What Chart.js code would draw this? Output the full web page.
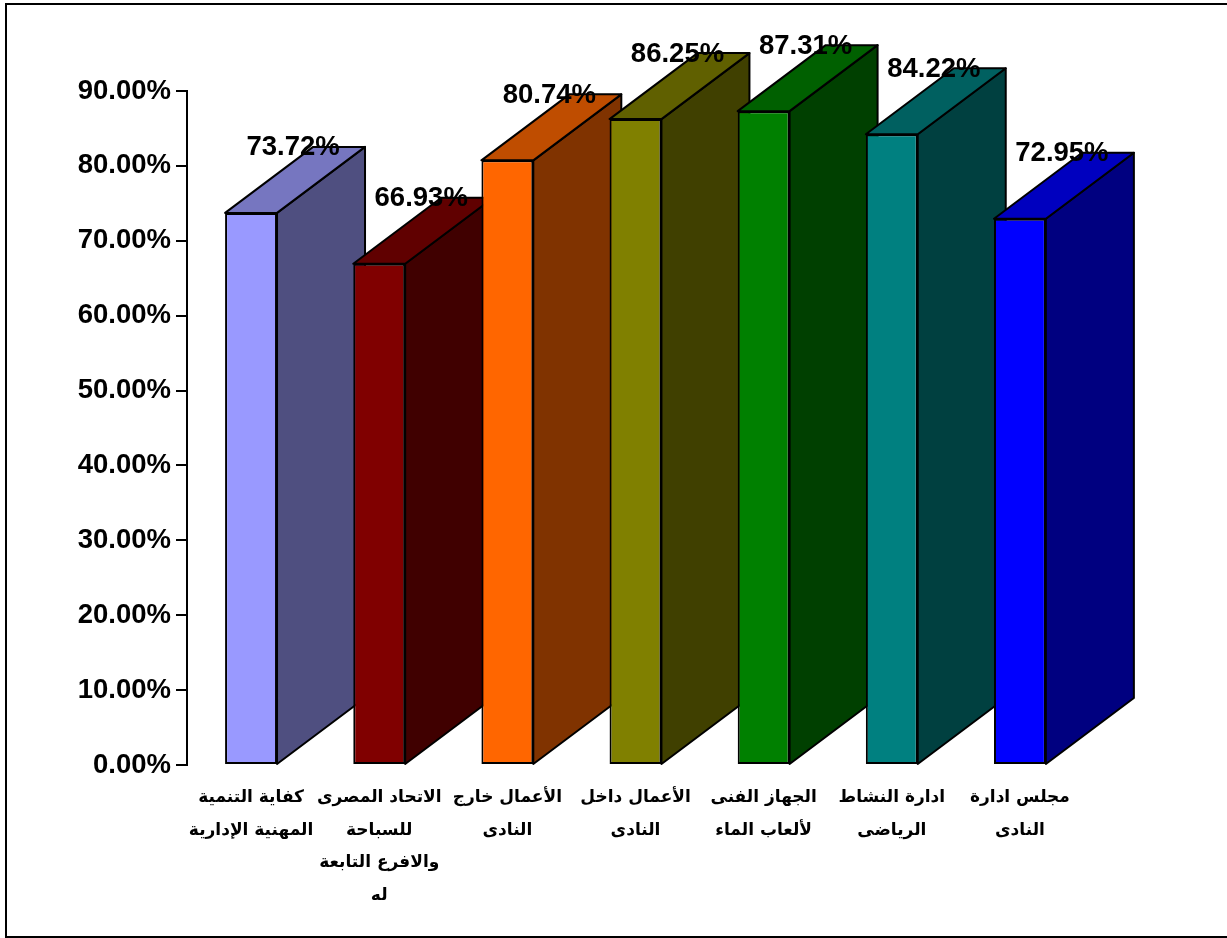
<!DOCTYPE html>
<html>
<head>
<meta charset="utf-8">
<script src="https://cdn.jsdelivr.net/npm/chart.js@4"></script>
<style>
  html, body { margin: 0; padding: 0; background: #fff; overflow: hidden; }
  #wrap { position: relative; width: 1227px; height: 938px; }
  #frame { position: absolute; left: 5px; top: 3px; right: -10px; bottom: 0; border: 2px solid #000; }
</style>
</head>
<body>
<div id="wrap">
  <canvas id="barChart" width="1227" height="938"></canvas>
  <div id="frame"></div>
</div>
<script>
// Categories, wrapped the way the reference wraps them
const categories = [
  ['كفاية التنمية', 'المهنية الإدارية'],
  ['الاتحاد المصرى', 'للسباحة', 'والافرع التابعة', 'له'],
  ['الأعمال خارج', 'النادى'],
  ['الأعمال داخل', 'النادى'],
  ['الجهاز الفنى', 'لألعاب الماء'],
  ['ادارة النشاط', 'الرياضى'],
  ['مجلس ادارة', 'النادى']
];
const values = [73.72, 66.93, 80.74, 86.25, 87.31, 84.22, 72.95];
const frontColors = ['#9999FF', '#800000', '#FF6600', '#808000', '#008000', '#008080', '#0000FF'];
const topColors = ['#7676C0', '#600000', '#BF4D00', '#606000', '#006000', '#006060', '#0000BF'];
const sideColors = ['#4F4F80', '#400000', '#803300', '#404000', '#004000', '#004040', '#000080'];

// depth of the fake 3D extrusion, px
const depthX = 88;
const depthY = 66;
const boldFont = '"Liberation Sans", Arial, sans-serif';

function face(c, pts, fill) {
  c.beginPath();
  c.moveTo(pts[0][0], pts[0][1]);
  for (let i = 1; i < pts.length; i++) c.lineTo(pts[i][0], pts[i][1]);
  c.closePath();
  c.fillStyle = fill;
  c.fill();
  c.lineWidth = 2;
  c.strokeStyle = '#000';
  c.lineJoin = 'round';
  c.stroke();
}

// Side and top faces go under the fronts, left to right
const extrude = {
  id: 'extrude',
  beforeDatasetsDraw(chart) {
    const c = chart.ctx;
    c.save();
    chart.getDatasetMeta(0).data.forEach((bar, i) => {
      const l = bar.x - bar.width / 2;
      const r = bar.x + bar.width / 2;
      const t = bar.y;
      const b = bar.base;
      face(c, [[r, t], [r + depthX, t - depthY], [r + depthX, b - depthY], [r, b]], sideColors[i]);
      face(c, [[l, t], [l + depthX, t - depthY], [r + depthX, t - depthY], [r, t]], topColors[i]);
    });
    c.restore();
  },
  afterDatasetsDraw(chart) {
    const c = chart.ctx;
    c.save();
    c.font = 'bold 27.5px ' + boldFont;
    c.fillStyle = '#000';
    c.textAlign = 'center';
    c.textBaseline = 'middle';
    chart.getDatasetMeta(0).data.forEach((bar, i) => {
      c.fillText(values[i].toFixed(2) + '%', bar.x + 42, bar.y - depthY + 1);
    });
    c.restore();
  }
};

const ctx = document.getElementById('barChart').getContext('2d');
new Chart(ctx, {
  type: 'bar',
  data: {
    labels: categories,
    datasets: [{
      data: values,
      backgroundColor: frontColors,
      borderColor: '#000',
      borderWidth: 2,
      borderSkipped: false,
      barPercentage: 0.405,
      categoryPercentage: 1
    }]
  },
  options: {
    responsive: false,
    animation: false,
    layout: { padding: { top: 91, right: 143, bottom: 0, left: 0 } },
    plugins: { legend: { display: false }, tooltip: { enabled: false } },
    scales: {
      x: {
        afterFit(scale) { scale.height = 173; },
        border: { display: false },
        grid: { display: false },
        ticks: {
          maxRotation: 0,
          minRotation: 0,
          autoSkip: false,
          padding: 8,
          color: '#000',
          font: { family: '"DejaVu Sans", sans-serif', size: 17, weight: 'bold', lineHeight: 1.93 }
        }
      },
      y: {
        min: 0,
        max: 90,
        afterFit(scale) { scale.width = 187; },
        border: { color: '#000', width: 2 },
        grid: { drawOnChartArea: false, color: '#000', lineWidth: 2, tickLength: 11 },
        ticks: {
          stepSize: 10,
          padding: 5,
          color: '#000',
          font: { family: boldFont, size: 27.5, weight: 'bold' },
          callback: v => v.toFixed(2) + '%'
        }
      }
    }
  },
  plugins: [extrude]
});
</script>
</body>
</html>
